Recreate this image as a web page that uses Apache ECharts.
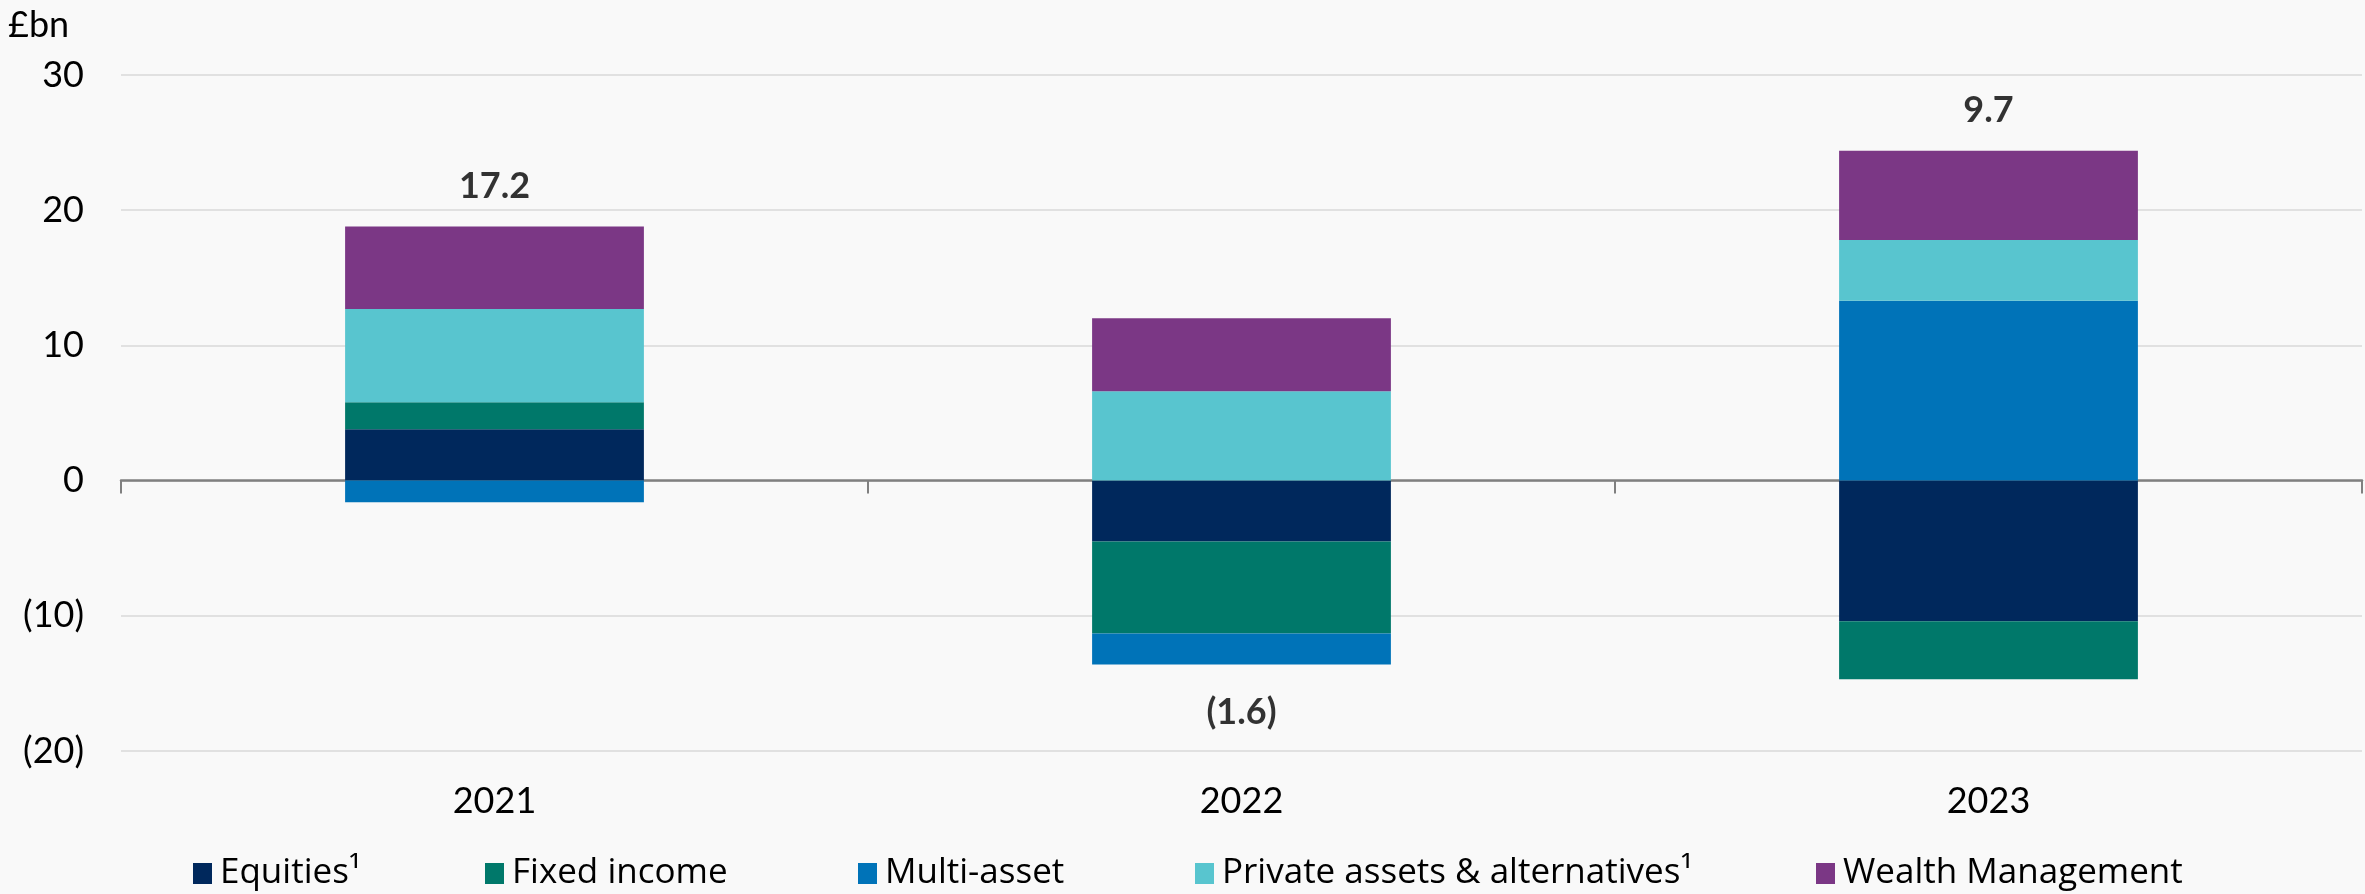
<!DOCTYPE html>
<html><head><meta charset="utf-8">
<script src="https://cdn.jsdelivr.net/npm/echarts@6/dist/echarts.min.js"></script>
<style>html,body{margin:0;padding:0;background:#f9f9f9}#c{width:2365px;height:894px}</style>
</head><body><div id="c"></div>
<script>
const categories = ['2021', '2022', '2023'];
const equities = [3.8, -4.5, -10.4];
const fixedIncome = [2.0, -6.8, -4.3];
const multiAsset = [-1.6, -2.3, 13.3];
const privateAssets = [6.9, 6.6, 4.5];
const wealthManagement = [6.1, 5.4, 6.6];
const totals = [17.2, -1.6, 9.7];
const yTicks = [-20, -10, 0, 10, 20, 30];

const seriesDefs = [
  {name: 'Equities¹', data: equities, color: '#00285c'},
  {name: 'Fixed income', data: fixedIncome, color: '#00786a'},
  {name: 'Multi-asset', data: multiAsset, color: '#0073b8'},
  {name: 'Private assets & alternatives¹', data: privateAssets, color: '#58c5cf'},
  {name: 'Wealth Management', data: wealthManagement, color: '#7b3785'}
];
const legendLeft = [188, 480, 853, 1190, 1811];
const FONT = 'Lato';
const LEGEND_FONT = 'Open Sans';

const anchor = categories.map((c, i) => {
  let pos = 0, neg = 0;
  seriesDefs.forEach(s => { const v = s.data[i]; if (v >= 0) pos += v; else neg += v; });
  return totals[i] >= 0 ? pos : neg;
});

const chart = echarts.init(document.getElementById('c'));
const series = seriesDefs.map(s => ({
  name: s.name, type: 'bar', stack: 'all', data: s.data, barWidth: '40%',
  itemStyle: {color: s.color}, xAxisIndex: 0
}));
series.push({
  type: 'scatter', xAxisIndex: 0, symbolSize: 0, silent: true,
  data: anchor.map((a, i) => ({
    value: a,
    label: {
      show: true,
      position: totals[i] >= 0 ? 'top' : 'bottom',
      distance: totals[i] >= 0 ? 22 : 30,
      formatter: () => totals[i] < 0 ? '(' + Math.abs(totals[i]).toFixed(1) + ')' : totals[i].toFixed(1),
      fontFamily: FONT, fontSize: 36, fontWeight: 'bold', color: '#000'
    }
  }))
});

chart.setOption({
  backgroundColor: '#f9f9f9',
  animation: false,
  title: {text: '£bn', left: 3, top: 2, textStyle: {fontFamily: FONT, fontSize: 36, fontWeight: 'normal', color: '#000'}},
  legend: seriesDefs.map((s, i) => ({
    data: [s.name], left: legendLeft[i], top: 851, itemWidth: 19, itemHeight: 21, itemGap: 0,
    icon: 'rect', textStyle: {fontFamily: LEGEND_FONT, fontSize: 35, color: '#000', padding: [0, 0, 0, 3]}
  })),
  grid: {left: 121, right: 3, top: 75, bottom: 143},
  xAxis: [
    {type: 'category', data: categories,
     axisLine: {onZero: true, lineStyle: {color: '#808080', width: 2.5}},
     axisTick: {show: true, length: 13, lineStyle: {color: '#808080', width: 2}},
     axisLabel: {show: false}},
    {type: 'category', data: categories, position: 'bottom', offset: 0,
     axisLine: {show: false}, axisTick: {show: false},
     axisLabel: {margin: 32, fontFamily: FONT, fontSize: 36, color: '#000'}}
  ],
  yAxis: {
    type: 'value', min: yTicks[0], max: yTicks[yTicks.length - 1], interval: 10,
    axisLine: {show: false}, axisTick: {show: false},
    splitLine: {lineStyle: {color: '#d9d9d9', width: 1.5}},
    axisLabel: {margin: 37, fontFamily: FONT, fontSize: 36, color: '#000',
      formatter: v => v < 0 ? '(' + Math.abs(v) + ')' : String(v)}
  },
  series: series
});
</script></body></html>
